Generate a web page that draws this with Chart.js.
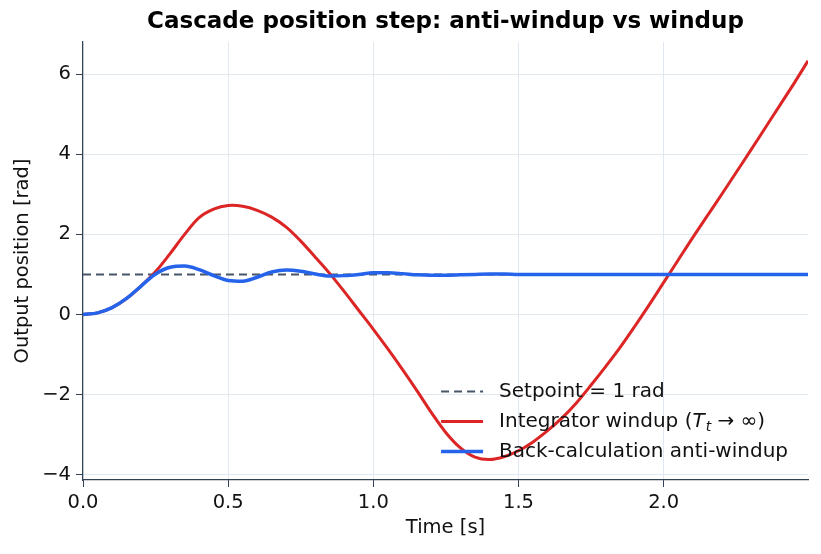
<!DOCTYPE html>
<html>
<head>
<meta charset="utf-8">
<script src="https://cdn.jsdelivr.net/npm/chart.js@4.4.1/dist/chart.umd.min.js"></script>
<style>
  html, body { margin: 0; padding: 0; background: #ffffff; }
  #wrap { width: 821px; height: 554px; }
</style>
</head>
<body>
<div id="wrap"><canvas id="stepChart"></canvas></div>
<script>
// time samples [s]
const timeS = [
  0, 0.05, 0.1, 0.15, 0.2, 0.25, 0.3, 0.35, 0.4, 0.45,
  0.5, 0.55, 0.6, 0.65, 0.7, 0.75, 0.8, 0.85, 0.9, 0.95,
  1.0, 1.05, 1.1, 1.15, 1.2, 1.25, 1.3, 1.35, 1.4, 1.45,
  1.5, 1.55, 1.6, 1.65, 1.7, 1.75, 1.8, 1.85, 1.9, 1.95,
  2.0, 2.05, 2.1, 2.15, 2.2, 2.25, 2.3, 2.35, 2.4, 2.45, 2.497
];
// integrator windup (Tt -> inf)
const windupY = [
  0, 0.04, 0.17, 0.4, 0.71, 1.07, 1.52, 2.0, 2.42, 2.63,
  2.72, 2.7, 2.6, 2.43, 2.18, 1.83, 1.43, 1.02, 0.57, 0.1,
  -0.37, -0.86, -1.37, -1.9, -2.45, -2.95, -3.33, -3.56, -3.62, -3.55,
  -3.4, -3.18, -2.9, -2.58, -2.2, -1.76, -1.3, -0.82, -0.3, 0.24,
  0.8, 1.36, 1.92, 2.46, 3.0, 3.55, 4.1, 4.66, 5.22, 5.78, 6.33
];
// back-calculation anti-windup
const antiWindupY = [
  0, 0.04, 0.17, 0.4, 0.71, 1.01, 1.18, 1.21, 1.12, 0.97,
  0.85, 0.83, 0.93, 1.06, 1.11, 1.08, 1.01, 0.96, 0.97, 1.0,
  1.04, 1.04, 1.02, 0.99, 0.98, 0.98, 0.99, 1.0, 1.01, 1.01,
  1.0, 1.0, 1.0, 1.0, 1.0, 1.0, 1.0, 1.0, 1.0, 1.0,
  1.0, 1.0, 1.0, 1.0, 1.0, 1.0, 1.0, 1.0, 1.0, 1.0, 1.0
];
const setpoint = 1;
const xTicks = [0, 0.5, 1.0, 1.5, 2.0];
const yTicks = [-4, -2, 0, 2, 4, 6];
const seriesLabels = ['Setpoint = 1 rad', 'Integrator windup (T_t → ∞)', 'Back-calculation anti-windup'];

const FONT = "'DejaVu Sans', sans-serif";
const txtSize = 19.5;
const legendSize = 20;

const pts = ys => timeS.map((t, i) => ({ x: t, y: ys[i] }));

// legend drawn inside the plot, lower right, no frame (like the original)
const legendRows = [
  { color: '#475569', dash: [8, 5], width: 2, parts: [{ t: 'Setpoint = 1 rad' }] },
  { color: '#dc2626', dash: [], width: 3, parts: [
      { t: 'Integrator windup (' }, { t: 'T', it: true }, { t: 't', it: true, sub: true },
      { t: ' → ∞)' }] },
  { color: '#2563eb', dash: [], width: 3.5, parts: [{ t: 'Back-calculation anti-windup' }] }
];

function partFont(p) {
  const size = p.sub ? legendSize * 0.7 : legendSize;
  return (p.it ? 'italic ' : '') + size + 'px ' + FONT;
}

const insideLegend = {
  id: 'insideLegend',
  afterDatasetsDraw(chart) {
    const ctx = chart.ctx, a = chart.chartArea;
    ctx.save();
    const widths = legendRows.map(r => r.parts.reduce((s, p) => {
      ctx.font = partFont(p); return s + ctx.measureText(p.t).width;
    }, 0));
    const textX = a.right - 20 - Math.max(...widths);
    legendRows.forEach((r, i) => {
      const cy = a.bottom - 28.5 - 30 * (legendRows.length - 1 - i);
      ctx.beginPath();
      ctx.strokeStyle = r.color;
      ctx.lineWidth = r.width;
      ctx.setLineDash(r.dash);
      ctx.moveTo(textX - 58, cy);
      ctx.lineTo(textX - 16, cy);
      ctx.stroke();
      ctx.setLineDash([]);
      let x = textX;
      ctx.fillStyle = '#111111';
      ctx.textBaseline = 'middle';
      r.parts.forEach(p => {
        ctx.font = partFont(p);
        ctx.fillText(p.t, x, cy + (p.sub ? legendSize * 0.3 : 0));
        x += ctx.measureText(p.t).width + (p.t === 'T' ? 1 : 0);
      });
    });
    ctx.restore();
  }
};

new Chart(document.getElementById('stepChart'), {
  type: 'line',
  data: {
    datasets: [
      {
        label: seriesLabels[0],
        data: [{ x: timeS[0], y: setpoint }, { x: timeS[timeS.length - 1], y: setpoint }],
        borderColor: '#475569', borderWidth: 2, borderDash: [8, 5],
        pointRadius: 0, order: 3
      },
      {
        label: seriesLabels[1],
        data: pts(windupY),
        borderColor: '#dc2626', borderWidth: 3,
        pointRadius: 0, tension: 0.35, order: 2
      },
      {
        label: seriesLabels[2],
        data: pts(antiWindupY),
        borderColor: '#2563eb', borderWidth: 3.5,
        pointRadius: 0, cubicInterpolationMode: 'monotone', order: 1
      }
    ]
  },
  options: {
    responsive: true,
    maintainAspectRatio: false,
    animation: false,
    layout: { padding: { left: 0, right: 13, top: 0, bottom: 0 } },
    plugins: {
      legend: { display: false },
      title: {
        display: true,
        fullSize: false,
        text: 'Cascade position step: anti-windup vs windup',
        color: '#000000',
        font: { family: FONT, size: 23, weight: 'bold' },
        padding: { top: 8, bottom: 6.4 }
      },
      tooltip: { enabled: true }
    },
    scales: {
      x: {
        type: 'linear',
        min: 0, max: 2.497,
        afterBuildTicks: s => { s.ticks = xTicks.map(v => ({ value: v })); },
        afterFit: s => { s.height = 74; },
        ticks: {
          color: '#111111', padding: 4,
          font: { family: FONT, size: txtSize },
          callback: v => v.toFixed(1)
        },
        grid: { color: '#e2e8f0', tickColor: '#334155', tickLength: 7 },
        border: { color: '#334155', width: 1.2 },
        title: {
          display: true, text: 'Time [s]', color: '#111111',
          font: { family: FONT, size: txtSize },
          padding: { top: 4, bottom: 14 }
        }
      },
      y: {
        type: 'linear',
        min: -4.13, max: 6.8,
        afterBuildTicks: s => { s.ticks = yTicks.map(v => ({ value: v })); },
        afterFit: s => { s.width = 83; },
        ticks: {
          color: '#111111', padding: 5,
          font: { family: FONT, size: txtSize },
          callback: v => (v < 0 ? '\u2212' + Math.abs(v) : String(v))
        },
        grid: { color: '#e2e8f0', tickColor: '#334155', tickLength: 7 },
        border: { color: '#334155', width: 1.2 },
        title: {
          display: true, text: 'Output position [rad]', color: '#111111',
          font: { family: FONT, size: txtSize },
          padding: { top: 11, bottom: 0 }
        }
      }
    }
  },
  plugins: [insideLegend]
});
</script>
</body>
</html>
